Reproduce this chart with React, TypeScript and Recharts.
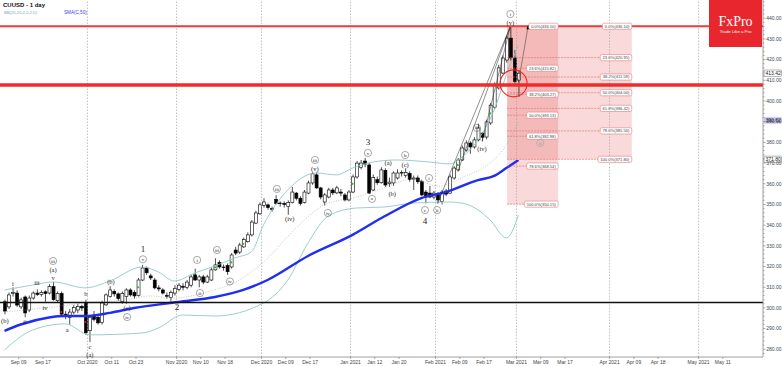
import React from 'react';
import { ComposedChart, Bar, Line, XAxis, YAxis, ReferenceLine, ReferenceArea, ReferenceDot } from 'recharts';

// ---------- candles (index 0 = first visible trading day) ----------
const opens = [303,300.5,307,307.2,300.5,305.3,299,304.8,307.2,306.5,307.8,307.2,310.3,303.5,307,297,295.5,298,299,300.8,302.4,289,296.5,295.5,293,301.5,305.5,308,306.8,303,305.5,308.7,307.5,306,313.5,319.3,315.5,313.5,309.7,308.7,306,305,307.2,309,310.5,310,311,316,313.5,315,312.5,313.5,318.4,322,319.8,320.5,319.8,328,327,329.5,332,335.3,341,345.5,349.5,349.8,348,352.5,350.5,350.5,349,351,355.5,353,351,355.5,360.4,364.3,358,351.2,353.6,357,355.6,356,354.6,352.2,356,363.3,368,371,369.1,357,362,360.5,366.5,360,360.4,362.8,365.2,364,365,362.3,362.8,361,356,355.5,353.6,355,351.5,356.5,355.5,362.8,366.7,371.5,376.3,379.7,377.8,381.2,384.5,382.6,389.4,397,406.3,413.5,419.8,430.4,420.8,410.1];
const highs = [304,307.5,310,308.5,305,306,306,308,309,308.5,308.5,311.5,312.5,308,308,298.5,299.5,301.5,302,301.5,304,296.5,298.5,296.5,303.5,307,310.5,309,307.5,308,309.5,309.5,308.5,314.5,320.8,320,316.5,314.5,311,309.5,307.5,308.5,311,312,312,313.5,316,319,316,316,316,319.5,324,323,321,321.5,326.5,329.5,331.5,334,336.5,342.5,347,351,353,350.5,349,354.5,351.5,351.5,352,358.5,356,354,357,361.5,365.5,365.5,358.5,355.5,358,358,359,357.5,355.5,357,364.5,371,371.5,372.5,370,364.5,363.5,368,367.5,363,366,367,366.5,367.5,366,364,364,362,357,359,356.5,356,357,357.5,364.5,368.5,372.5,378.5,381,380.5,382.5,389,385,391,399,409,417.5,422,431.5,436.1,424.6,415];
const lows = [297,299.5,305.5,300.5,299.5,295.5,298,304,305.8,305.5,303,306.5,303.5,302.5,296,294.5,292,297,297.5,298.5,287,283.5,293.5,292,292,301,305,305.5,303.5,302,302,305.5,304.5,305.5,313,316,313.5,309,308,306.5,304.5,303,306,308,308.5,309,310,313,310,311.5,312,313,318,319,318,316,319,325.5,326,329,331.5,334.5,340.5,345,348.5,347.5,346.5,350,349,348.5,345,350.5,352,349.5,350.5,355,359.5,357.5,352.5,349.5,353,354.5,355,354,351.5,351.5,355.5,362.5,367,368,355,356.5,359.5,360,358.5,358.5,359,362,363.5,363,361,357,360,354,350.5,353,352.5,350.5,350,354,355,362,366,371,375.5,374.5,377,380.5,380.5,381.5,388.5,396,405.5,413,418.5,419.5,408.5,402];
const closes = [298.5,306.3,307.5,301.4,303.9,297.6,304.8,307.2,306.5,307.5,307,310.3,304,307,297,296,298,300.3,300.8,300,288,295.5,294.5,292.8,302.4,306.3,308.7,306.8,304.5,307,308.7,306.3,305.8,313.5,319.3,317,314.5,309.7,309.2,307.2,305.8,307.5,309.5,311,310,312.5,315,313.5,315,312.5,315,318.4,320.8,319.8,319.5,317.5,325.6,326.5,330.4,333,335.3,341.5,345.9,349.8,351.2,348.5,347.8,350.5,350.7,350,351,356,353,350.5,356,360.4,364.8,358,353.6,354.6,357,355.6,358,355.5,352.2,356,363.3,370,370,369.5,355.5,363,360.5,366.7,359.4,360.8,365.2,365.2,365.5,365.5,362,362.8,361,354.6,353.6,353.6,355.5,352.2,356,355,363.3,367.6,371.5,377.3,379.7,377.8,381.2,387,382.5,389.9,398,407.7,416,420.8,430.4,420.8,409.5,413.42];

// ---------- indicators, read at sparse points [index, value] ----------
const smaPoints: Array<[number, number]> = [[0,288.9],[4,292.0],[11,295.4],[15,296.1],[20,296.1],[26,297.6],[32,300],[43,302.9],[52,305.3],[59,308.7],[65,313.5],[75,325.1],[86,335.3],[94,344.4],[103,353.1],[109,356.0],[117,361.8],[121,363.8],[124,367.6],[127,371.5]];
const bbUpperPoints: Array<[number, number]> = [[0,308.7],[7,311.1],[12,312.6],[20,309.7],[26,313.0],[34,319.8],[38,317.4],[42,313.0],[47,316.9],[52,320.3],[57,324.2],[61,327.1],[64,340.1],[70,357.0],[77,365.2],[82,364.3],[86,367.6],[91,370.5],[97,371.5],[105,370.5],[110,369.6],[113,372.9],[117,381.2],[121,395.7],[124,412.6],[127,427.1]];
const bbMiddlePoints: Array<[number, number]> = [[0,298.1],[10,300],[20,302.4],[30,303.9],[36,305.8],[42,304.8],[50,307.7],[58,313.5],[64,322.2],[72,338.6],[79,349.8],[87,353.6],[93,357.5],[101,362.3],[107,358.9],[114,363.8],[120,370.0],[124,378.7],[127,389.9]];
const bbLowerPoints: Array<[number, number]> = [[0,279.7],[7,289.4],[15,292.3],[21,287.0],[34,287.9],[38,290.3],[44,296.6],[52,296.1],[64,302.4],[70,313.5],[75,331.4],[80,344.4],[87,348.3],[94,348.8],[101,350.7],[110,351.2],[114,350.2],[120,342.5],[124,333.8],[127,344.9]];

// ---------- axes ----------
const xTickPos = [3.5,9.5,20.5,26.5,32.5,42.5,48.5,54.5,63.5,69.5,75.5,85.5,91.5,97.5,106.5,112.5,118.5,126.5,132.5,138.5,149.5,155.5,161.5,171.5,177.5];
const xTickLabels = ['Sep 09','Sep 17','Oct 2020','Oct 11','Oct 23','Nov 2020','Nov 10','Nov 18','Dec 2020','Dec 09','Dec 17','Jan 2021','Jan 12','Jan 20','Feb 2021','Feb 09','Feb 17','Mar 2021','Mar 09','Mar 17','Apr 2021','Apr 09','Apr 18','May 2021','May 11'];
const monthSeparators = [20.5,42.5,63.5,85.5,106.5,126.5,149.5,171.5];
const yTicks: number[] = [];
for (let v = 278; v <= 448; v += 2) yTicks.push(v);

// ---------- levels ----------
const resistance = 436.1;
const support = 407.7;
const baseLine = 302.66;
const fibPct = ['0.0%','23.6%','38.2%','50.0%','61.8%','78.6%','100.0%'];
const fibLeftVals = [436.10,415.82,403.27,393.13,382.98,368.54,350.15];
const fibRightVals = [436.10,420.95,411.59,404.00,396.42,385.56,371.80];
const fibStart = 124.2, fibLeftEnd = 136.8, fibRightEnd = 155.0;

const axisMarks = [
  { v: 413.42, kind: 'box' },
  { v: 390.62, kind: 'blue' },
  { v: 371.80, kind: 'box' },
];

// ---------- wave annotations ----------
type W = { k: number; v: number; t: string; c?: boolean; big?: boolean; gray?: boolean };
const waveLabels: W[] = [
  { k: 0.1, v: 293.7, t: '(b)' }, { k: 2.1, v: 311.8, t: 'i' }, { k: 5.1, v: 293.2, t: 'ii' },
  { k: 8.0, v: 312.2, t: 'iii' }, { k: 10.0, v: 299.8, t: 'iv' }, { k: 12.0, v: 322.7, t: 'iii', c: true },
  { k: 12.0, v: 318.3, t: '(a)' }, { k: 12.0, v: 314.3, t: 'v' }, { k: 15.5, v: 289.4, t: 'a' },
  { k: 20.1, v: 306.8, t: 'b' }, { k: 21.1, v: 281.4, t: 'c' }, { k: 21.1, v: 277.3, t: '(a)' },
  { k: 26.3, v: 312.8, t: '(b)' }, { k: 30.3, v: 300.2, t: '(c)' }, { k: 30.3, v: 295.6, t: 'iv', c: true },
  { k: 34.2, v: 328.3, t: '1', big: true }, { k: 34.2, v: 323.5, t: 'v', c: true },
  { k: 42.6, v: 300.3, t: '2', big: true }, { k: 47.6, v: 323.2, t: 'i', c: true },
  { k: 48.3, v: 307.2, t: 'ii', c: true }, { k: 52.5, v: 328.0, t: 'iii', c: true },
  { k: 55.7, v: 312.8, t: 'iv', c: true }, { k: 67.3, v: 357.5, t: 'iii', c: true },
  { k: 70.5, v: 343.0, t: '(iv)' }, { k: 76.7, v: 371.5, t: 'iii', c: true }, { k: 76.7, v: 367.3, t: '(v)' },
  { k: 79.9, v: 345.9, t: 'iv', c: true }, { k: 89.8, v: 379.9, t: '3', big: true },
  { k: 89.8, v: 374.9, t: 'v', c: true }, { k: 90.8, v: 352.7, t: 'a', c: true },
  { k: 94.8, v: 370.0, t: '(a)' }, { k: 95.8, v: 355.3, t: '(b)' }, { k: 99.0, v: 373.9, t: 'b', c: true },
  { k: 99.0, v: 369.3, t: '(c)' }, { k: 103.9, v: 347.3, t: 'c', c: true }, { k: 103.9, v: 342.0, t: '4', big: true },
  { k: 104.9, v: 362.8, t: 'i', c: true }, { k: 106.9, v: 347.3, t: 'ii', c: true },
  { k: 116.7, v: 387.0, t: 'iii', c: true }, { k: 118.0, v: 376.8, t: '(iv)' },
  { k: 125, v: 442.0, t: 'i', c: true }, { k: 125, v: 437.9, t: '(v)' },
  { k: 132.4, v: 379.7, t: 'ii', c: true, gray: true },
];
const greenMarks: Array<[number, number]> = [[33,310],[52,319.6],[56,322],[59,331],[86,360],[112,369],[120,394]];
const redMarks: Array<[number, number]> = [[14,298],[20,293.2]];
const trendLines: Array<[number, number, number, number]> = [
  [107, 350.5, 125, 436.1], [112, 366, 125, 436.1], [118, 380.5, 125, 436.1],
];
const arrowFrom: [number, number] = [127, 409];
const arrowTo: [number, number] = [129.4, 436.3];
const circleAt: [number, number] = [125.8, 408.5];

// ---------- build chart rows ----------
const toMap = (pts: Array<[number, number]>) => { const m = new Map<number, number>(); pts.forEach(([k, v]) => m.set(k, v)); return m; };
const smaM = toMap(smaPoints), uM = toMap(bbUpperPoints), mM = toMap(bbMiddlePoints), lM = toMap(bbLowerPoints);
const data = opens.map((o, k) => ({
  k, o, h: highs[k], l: lows[k], c: closes[k], range: [lows[k], highs[k]],
  sma: smaM.has(k) ? smaM.get(k) : null, bbU: uM.has(k) ? uM.get(k) : null,
  bbM: mM.has(k) ? mM.get(k) : null, bbL: lM.has(k) ? lM.get(k) : null,
}));

const SANS = 'Liberation Sans, Arial, sans-serif';
const SERIF = 'Liberation Serif, Times New Roman, serif';

const Candle = (props: any) => {
  const { x, y, width, height, payload } = props;
  if (!payload || height == null) return null;
  const top = height >= 0 ? y : y + height;
  const hh = Math.abs(height);
  const { o, c, h, l } = payload;
  const ppu = hh / (h - l);
  const cx = x + width / 2;
  const yO = top + (h - o) * ppu, yC = top + (h - c) * ppu;
  const bt = Math.min(yO, yC);
  const bh = Math.max(Math.abs(yO - yC), 0.7);
  const bull = c >= o;
  return (
    <g>
      <line x1={cx} x2={cx} y1={top} y2={top + hh} stroke="#000" strokeWidth={0.7} />
      <rect x={x} y={bt} width={width} height={bh} fill={bull ? '#fff' : '#000'} stroke="#000" strokeWidth={0.6} />
    </g>
  );
};

const XTick = (p: any) => {
  const { x, y, payload } = p;
  const i = xTickPos.indexOf(payload.value);
  return (
    <g>
      <line x1={x} x2={x} y1={y} y2={y + 2} stroke="#777" strokeWidth={0.6} />
      <text x={x} y={y + 7.2} textAnchor="middle" fontSize={5} fill="#444" fontFamily={SANS}>{xTickLabels[i]}</text>
    </g>
  );
};

const YTick = (p: any) => {
  const { x, y, payload } = p;
  const v = payload.value as number;
  const major = Math.round(v) % 10 === 0;
  return (
    <g>
      <line x1={x} x2={x + (major ? 2.5 : 1.5)} y1={y} y2={y} stroke="#777" strokeWidth={0.6} />
      {major && <text x={x + 3.2} y={y} dy="0.35em" fontSize={5} fill="#444" fontFamily={SANS}>{v.toFixed(2)}</text>}
    </g>
  );
};

const WaveText = ({ cx, cy, w }: { cx: number; cy: number; w: W }) => (
  <g>
    {w.c && <circle cx={cx} cy={cy} r={3.6} fill="none" stroke={w.gray ? '#999' : '#555'} strokeWidth={0.5} />}
    <text x={cx} y={cy} dy="0.32em" textAnchor="middle" fontSize={w.big ? 9 : w.c ? 5 : 6.5}
      fill={w.gray ? '#888' : '#222'} fontFamily={SERIF}>{w.t}</text>
  </g>
);

const FibTag = ({ cx, cy, text }: { cx: number; cy: number; text: string }) => {
  const w = text.length * 2.2 + 3;
  return (
    <g>
      <rect x={cx - w} y={cy - 3.1} width={w} height={6.2} rx={1.6} fill="#fff" stroke="#e37d7d" strokeWidth={0.6} />
      <text x={cx - w / 2} y={cy} dy="0.35em" textAnchor="middle" fontSize={4.1} fill="#444" fontFamily={SANS}>{text}</text>
    </g>
  );
};

const AxisMark = ({ cx, cy, v, kind }: { cx: number; cy: number; v: number; kind: string }) => (
  <g>
    <rect x={cx + 1} y={cy - 3.2} width={17.5} height={6.4} rx={1}
      fill={kind === 'blue' ? '#c9c9f6' : '#fff'} stroke={kind === 'blue' ? '#c9c9f6' : '#666'} strokeWidth={0.5} />
    <text x={cx + 2.5} y={cy} dy="0.35em" fontSize={5} fill={kind === 'blue' ? '#223' : '#222'} fontFamily={SANS}>{v.toFixed(2)}</text>
  </g>
);

const Arrow = ({ cx, cy }: { cx: number; cy: number }) => (
  <polygon points={`${cx},${cy - 1} ${cx - 1.8},${cy + 3.5} ${cx + 1.8},${cy + 3.5}`} fill="#000" />
);

export default function App() {
  return (
    <div style={{ position: 'absolute', left: 0, top: 0, width: 782, height: 366, background: '#fff', overflow: 'hidden' }}>
      <ComposedChart width={782} height={366} data={data} margin={{ top: 0, right: 0, bottom: 0, left: 0 }}>
        <XAxis dataKey="k" type="number" domain={[-1.112, 187.42]} allowDataOverflow ticks={xTickPos} interval={0}
          tick={<XTick />} tickLine={false} tickSize={0} tickMargin={0} axisLine={{ stroke: '#888', strokeWidth: 0.8 }} height={9} />
        <YAxis orientation="right" type="number" domain={[276.3, 448.8]} allowDataOverflow ticks={yTicks} interval={0}
          tick={<YTick />} tickLine={false} tickSize={0} tickMargin={0} axisLine={{ stroke: '#888', strokeWidth: 0.8 }} width={19} />

        <ReferenceArea x1={fibStart} x2={fibLeftEnd} y1={fibLeftVals[6]} y2={fibLeftVals[0]} fill="#e04040" fillOpacity={0.2} stroke="none" />
        <ReferenceArea x1={fibStart} x2={fibRightEnd} y1={fibRightVals[6]} y2={fibRightVals[0]} fill="#e04040" fillOpacity={0.2} stroke="none" />
        {monthSeparators.map((m) => (
          <ReferenceLine key={'m' + m} x={m} stroke="#9a9a9a" strokeWidth={0.6} strokeDasharray="1.5 1.5" />
        ))}

        <Line dataKey="bbU" type="monotone" stroke="#92c6c6" strokeWidth={0.9} dot={false} activeDot={false} connectNulls isAnimationActive={false} />
        <Line dataKey="bbL" type="monotone" stroke="#92c6c6" strokeWidth={0.9} dot={false} activeDot={false} connectNulls isAnimationActive={false} />
        <Line dataKey="bbM" type="monotone" stroke="#a0a0a0" strokeWidth={0.6} strokeDasharray="1 1.5" dot={false} activeDot={false} connectNulls isAnimationActive={false} />
        <Line dataKey="sma" type="monotone" stroke="#1f2ef0" strokeWidth={2.4} dot={false} activeDot={false} connectNulls isAnimationActive={false} />

        <Bar dataKey="range" barSize={3} shape={<Candle />} activeBar={false} isAnimationActive={false} />

        {trendLines.map((t, i) => (
          <ReferenceLine key={'t' + i} segment={[{ x: t[0], y: t[1] }, { x: t[2], y: t[3] }]} stroke="#222" strokeWidth={0.5} />
        ))}
        <ReferenceLine segment={[{ x: arrowFrom[0], y: arrowFrom[1] }, { x: arrowTo[0], y: arrowTo[1] }]} stroke="#333" strokeWidth={0.5} />
        <ReferenceDot x={arrowTo[0]} y={arrowTo[1]} r={0} shape={(p: any) => <Arrow cx={p.cx} cy={p.cy} />} />

        {fibLeftVals.map((v, i) => (
          <ReferenceLine key={'fl' + i} segment={[{ x: fibStart, y: v }, { x: fibLeftEnd - 6, y: v }]} stroke="#e06a6a" strokeWidth={0.6} strokeDasharray="2 1" />
        ))}
        {fibRightVals.map((v, i) => (
          <ReferenceLine key={'fr' + i} segment={[{ x: fibStart, y: v }, { x: fibRightEnd - 6, y: v }]} stroke="#e06a6a" strokeWidth={0.6} strokeDasharray="2 1" />
        ))}

        <ReferenceLine y={resistance} stroke="#f23a3a" strokeWidth={2} />
        <ReferenceLine y={support} stroke="#f22a2a" strokeWidth={3.6} />
        <ReferenceLine y={baseLine} stroke="#111" strokeWidth={1.4} />
        <ReferenceDot x={circleAt[0]} y={circleAt[1]} r={13.5} fill="none" stroke="#f02828" strokeWidth={1.1} />

        {fibLeftVals.map((v, i) => (
          <ReferenceDot key={'tl' + i} x={fibLeftEnd} y={v} r={0} shape={(p: any) => <FibTag cx={p.cx} cy={p.cy} text={`${fibPct[i]}(${v.toFixed(2)})`} />} />
        ))}
        {fibRightVals.map((v, i) => (
          <ReferenceDot key={'tr' + i} x={fibRightEnd} y={v} r={0} shape={(p: any) => <FibTag cx={p.cx} cy={p.cy} text={`${fibPct[i]}(${v.toFixed(2)})`} />} />
        ))}

        {greenMarks.map((g, i) => (
          <ReferenceDot key={'g' + i} x={g[0]} y={g[1]} r={1.1} fill="#2bb52b" stroke="none" />
        ))}
        {redMarks.map((g, i) => (
          <ReferenceDot key={'r' + i} x={g[0]} y={g[1]} r={1.1} fill="#d42020" stroke="none" />
        ))}
        {waveLabels.map((w, i) => (
          <ReferenceDot key={'w' + i} x={w.k} y={w.v} r={0} ifOverflow="visible" shape={(p: any) => <WaveText cx={p.cx} cy={p.cy} w={w} />} />
        ))}
        {axisMarks.map((a, i) => (
          <ReferenceDot key={'a' + i} x={187.42} y={a.v} r={0} ifOverflow="visible" shape={(p: any) => <AxisMark cx={p.cx} cy={p.cy} v={a.v} kind={a.kind} />} />
        ))}
      </ComposedChart>

      <div style={{ position: 'absolute', left: 3, top: 1, fontFamily: SANS, fontSize: 6, fontWeight: 'bold', color: '#111', lineHeight: '8px' }}>CUUSD - 1 day</div>
      <div style={{ position: 'absolute', left: 4, top: 10, fontFamily: SANS, fontSize: 4.2, color: '#6bb0b0', lineHeight: '6px' }}>BB(20,20,2.0,2.0)</div>
      <div style={{ position: 'absolute', left: 64, top: 10, fontFamily: SANS, fontSize: 4.6, color: '#3a3af0', lineHeight: '6px' }}>SMA(C,50)</div>

      <div style={{ position: 'absolute', left: 709, top: 0, width: 53, height: 47, background: '#e8262d', color: '#fff', textAlign: 'center' }}>
        <div style={{ fontFamily: SERIF, fontSize: 14, lineHeight: '14px', marginTop: 15 }}>FxPro</div>
        <div style={{ fontFamily: SANS, fontSize: 4.3, lineHeight: '5px', marginTop: 0 }}>Trade Like a Pro</div>
      </div>
    </div>
  );
}
